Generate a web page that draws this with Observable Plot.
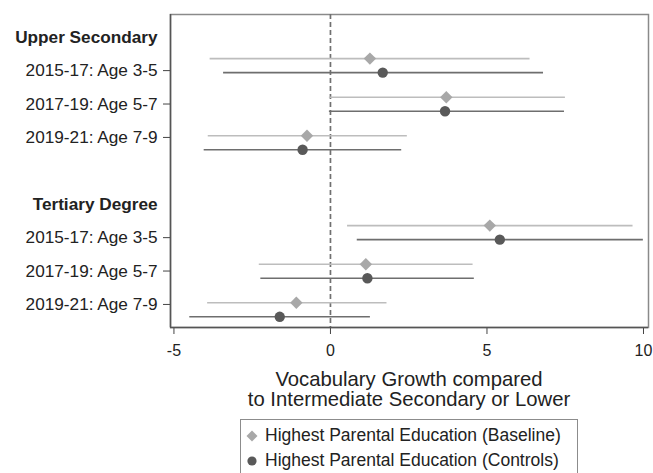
<!DOCTYPE html>
<html>
<head>
<meta charset="utf-8">
<script src="https://cdn.jsdelivr.net/npm/d3@7"></script>
<script src="https://cdn.jsdelivr.net/npm/@observablehq/plot@0.6"></script>
<style>
  html, body { margin: 0; padding: 0; background: #fff; }
  body { width: 653px; height: 473px; position: relative; overflow: hidden; font-family: "Liberation Sans", Arial, sans-serif; }
  #chart { position: absolute; left: 0; top: 0; }
  #xtitle { position: absolute; left: 170px; width: 478px; top: 369px; text-align: center; font-size: 20.3px; line-height: 20px; color: #222; }
  #legend { position: absolute; left: 240px; top: 419px; width: 338px; height: 70px; border: 1.5px solid #8c8c8c; padding-top: 3px; box-sizing: border-box; }
  .lrow { height: 25px; line-height: 25px; font-size: 17.5px; color: #222; white-space: nowrap; position: relative; padding-left: 24px; }
  .lrow svg { position: absolute; left: 4px; top: 6px; }
</style>
</head>
<body>
<div id="chart"></div>
<div id="xtitle"></div>
<div id="legend"></div>
<script>
// ---- data ----
const groups = ["Upper Secondary", "Tertiary Degree"];
const periods = ["2015-17: Age 3-5", "2017-19: Age 5-7", "2019-21: Age 7-9"];
const seriesNames = ["Highest Parental Education (Baseline)", "Highest Parental Education (Controls)"];
const xTicks = [-5, 0, 5, 10];
const xTitle = ["Vocabulary Growth compared", "to Intermediate Secondary or Lower"];

// estimates, lower and upper CI bounds, per group (Upper Secondary, Tertiary Degree) and period
const baselineEst = [[1.26, 3.70, -0.75], [5.09, 1.13, -1.09]];
const baselineLo  = [[-3.86, -0.05, -3.92], [0.53, -2.29, -3.94]];
const baselineHi  = [[6.36, 7.49, 2.44], [9.65, 4.54, 1.79]];
const controlsEst = [[1.67, 3.66, -0.89], [5.41, 1.18, -1.62]];
const controlsLo  = [[-3.43, -0.05, -4.05], [0.84, -2.24, -4.51]];
const controlsHi  = [[6.79, 7.46, 2.26], [9.98, 4.58, 1.26]];

// ---- layout of rows (coefplot style) ----
const groupStep = 5;
const markerStart = 0.64;
const markerStep = 1.155;
const seriesOffset = 0.42;

const rows = [];
const labelTicks = [];
const labelNames = [];
const headerTicks = [];
groups.forEach((g, gi) => {
  const base = gi * groupStep;
  headerTicks.push(base);
  periods.forEach((p, pi) => {
    labelTicks.push(base + 1 + pi);
    labelNames.push(p);
    rows.push({series: seriesNames[0], est: baselineEst[gi][pi], lo: baselineLo[gi][pi], hi: baselineHi[gi][pi],
               y: base + markerStart + markerStep * pi});
    rows.push({series: seriesNames[1], est: controlsEst[gi][pi], lo: controlsLo[gi][pi], hi: controlsHi[gi][pi],
               y: base + markerStart + markerStep * pi + seriesOffset});
  });
});
const baseRows = rows.filter(d => d.series === seriesNames[0]);
const ctrlRows = rows.filter(d => d.series === seriesNames[1]);

const colBaseLine = "#bdbdbd", colBaseMark = "#a8a8a8";
const colCtrlLine = "#6e6e6e", colCtrlMark = "#595959";

const chart = Plot.plot({
  width: 653,
  height: 362,
  marginTop: 14,
  marginBottom: 35,
  marginLeft: 170,
  marginRight: 5,
  style: {fontFamily: "'Liberation Sans', Arial, sans-serif", fontSize: "16px", color: "#222", background: "#fff"},
  x: {domain: [-5.11, 10.16]},
  y: {domain: [-0.68, 8.69], reverse: true},
  marks: [
    Plot.frame({stroke: "#8a8a8a", strokeWidth: 1.5}),
    Plot.ruleX([0], {stroke: "#707070", strokeWidth: 1.7, strokeDasharray: "5,3"}),
    Plot.link(baseRows, {x1: "lo", x2: "hi", y1: "y", y2: "y", stroke: colBaseLine, strokeWidth: 1.6}),
    Plot.link(ctrlRows, {x1: "lo", x2: "hi", y1: "y", y2: "y", stroke: colCtrlLine, strokeWidth: 1.6}),
    Plot.dot(baseRows, {x: "est", y: "y", symbol: "diamond2", r: 5.6, fill: colBaseMark, stroke: "none"}),
    Plot.dot(ctrlRows, {x: "est", y: "y", symbol: "circle", r: 5.2, fill: colCtrlMark, stroke: "none"}),
    Plot.axisX({ticks: xTicks, tickSize: 7, tickPadding: 10, tickFormat: d => String(d), label: null, stroke: "#444", fontSize: "16px"}),
    Plot.axisY({ticks: labelTicks, tickFormat: (d, i) => labelNames[i], tickSize: 7, tickPadding: 6, label: null, stroke: "#444", fontSize: "17.2px"}),
    Plot.axisY({ticks: headerTicks, tickFormat: (d, i) => groups[i], tickSize: 0, tickPadding: 13, label: null, fontSize: "17.2px", fontWeight: "bold"}),
    Plot.ruleX([-5.11], {stroke: "#555", strokeWidth: 1.5}),
    Plot.ruleY([8.69], {stroke: "#555", strokeWidth: 1.5})
  ]
});
document.getElementById("chart").appendChild(chart);

document.getElementById("xtitle").innerHTML = xTitle.map(t => `<div>${t}</div>`).join("");

const legend = document.getElementById("legend");
const symbols = [
  `<svg width="14" height="14"><path d="M7,1.5 L12.5,7 L7,12.5 L1.5,7 Z" fill="${colBaseMark}"/></svg>`,
  `<svg width="14" height="14"><circle cx="7" cy="7" r="4.6" fill="${colCtrlMark}"/></svg>`
];
seriesNames.forEach((s, i) => {
  const row = document.createElement("div");
  row.className = "lrow";
  row.innerHTML = symbols[i] + `<span>${s}</span>`;
  legend.appendChild(row);
});
</script>
</body>
</html>
